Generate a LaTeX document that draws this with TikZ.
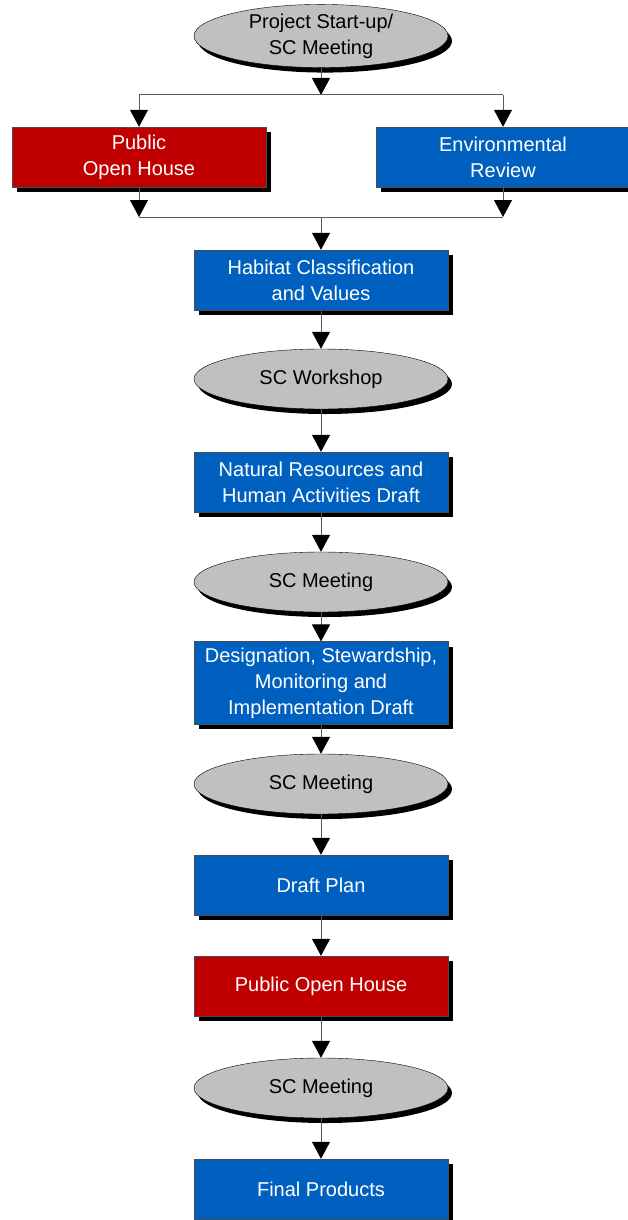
\documentclass[tikz,border=0pt]{standalone}
\usepackage{fontspec}
\setmainfont{Liberation Sans}
\usetikzlibrary{shapes.geometric,shadows,arrows.meta}
\definecolor{taskblue}{RGB}{0,96,192}
\definecolor{taskred}{RGB}{192,0,0}
\definecolor{meetgray}{RGB}{192,192,192}
\tikzset{
  task/.style={rectangle, draw=black!70, fill=taskblue, text=white, align=center,
    minimum width=254pt, minimum height=60pt, inner sep=6pt,
    font=\fontsize{20}{26}\selectfont,
    drop shadow={shadow xshift=5pt, shadow yshift=-5pt, fill=black, opacity=1}},
  pubtask/.style={task, fill=taskred},
  meet/.style={ellipse, draw=black, fill=meetgray, text=black, align=center,
    minimum width=254pt, minimum height=60pt, inner sep=0pt,
    font=\fontsize{20}{26}\selectfont,
    drop shadow={shadow xshift=4pt, shadow yshift=-5pt, fill=black, opacity=1}},
  link/.style={draw=black!65, line width=1pt},
  flow/.style={link, -{Triangle[width=18pt,length=17pt,black]}}
}
\begin{document}
\begin{tikzpicture}[x=1pt,y=-1pt]
            \useasboundingbox (0,0) rectangle (627,1220);
            % start and the two parallel tasks
            \node[meet] (start) at (321,36) {Project Start-up/\\SC Meeting};
            \node[pubtask] (pub) at (139,157) {Public\\Open House};
            \node[task] (env) at (503,157) {Environmental\\Review};
            \coordinate (split) at (321,95);
            \coordinate (splitL) at (139,95);
            \coordinate (splitR) at (503,95);
            \coordinate (join) at (321,217);
            \coordinate (joinL) at (139,217);
            \coordinate (joinR) at (503,217);

            % main chain
            \node[task] (habitat) at (321,280) {Habitat Classification\\and Values};
            \node[meet] (workshop) at (321,379) {SC Workshop};
            \node[task] (natural) at (321,482) {Natural Resources and\\Human Activities Draft};
            \node[meet] (meetA) at (321,582) {SC Meeting};
            \node[task] (design) at (321,683) {Designation, Stewardship,\\Monitoring and\\Implementation Draft};
            \node[meet] (meetB) at (321,784) {SC Meeting};
            \node[task] (draft) at (321,885) {Draft Plan};
            \node[pubtask] (openhouse) at (321,986) {Public Open House};
            \node[meet] (meetC) at (321,1088) {SC Meeting};
            \node[task] (final) at (321,1189) {Final Products};

            % split and join
            \draw[flow] (start) -- (split);
            \draw[link] (splitL) -- (splitR);
            \draw[flow] (splitL) -- (pub);
            \draw[flow] (splitR) -- (env);
            \draw[flow] (pub) -- (joinL);
            \draw[flow] (env) -- (joinR);
            \draw[link] (joinL) -- (joinR);
            \draw[flow] (join) -- (habitat);

            \foreach \a/\b in {habitat/workshop,workshop/natural,natural/meetA,meetA/design,
                design/meetB,meetB/draft,draft/openhouse,openhouse/meetC,meetC/final}
            \draw[flow] (\a) -- (\b);
        \end{tikzpicture}
\end{document}
